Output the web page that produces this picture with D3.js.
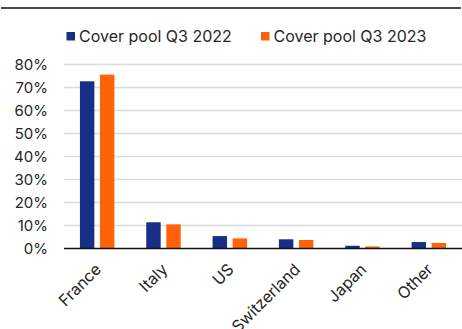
<!DOCTYPE html>
<html lang="en">
<head>
    <meta charset="UTF-8">
    <title>Cover pool by country</title>
    <script src="https://cdn.jsdelivr.net/npm/d3@7"></script>
</head>
<style>
    body { margin: 0; background: #fff; }
    text { font-family: Inter, "Noto Sans", sans-serif; fill: #262626; }
</style>
<body>
    <div class="chartBox"></div>
    <script>
        // 数据
        const countries = ["France", "Italy", "US", "Switzerland", "Japan", "Other"];
        const seriesNames = ["Cover pool Q3 2022", "Cover pool Q3 2023"];
        const q3_2022 = [72.7, 11.4, 5.4, 4.0, 1.2, 2.8];
        const q3_2023 = [75.6, 10.5, 4.4, 3.7, 0.9, 2.4];
        const yTicks = [0, 10, 20, 30, 40, 50, 60, 70, 80];
        const colors = ["#192f87", "#ff6309"];

        const width = 462, height = 329;
        const margin = { top: 64.5, right: 0, bottom: 80.5, left: 64 };

        const svg = d3.select(".chartBox").append("svg")
            .attr("width", width).attr("height", height);

        // 顶部黑线
        svg.append("line")
            .attr("x1", 1).attr("x2", 461).attr("y1", 8).attr("y2", 8)
            .attr("stroke", "#111").attr("stroke-width", 1.3);

        const x0 = d3.scaleBand().domain(countries)
            .range([margin.left, width - margin.right])
            .paddingInner(0.48).paddingOuter(0.24);
        const x1 = d3.scaleBand().domain(seriesNames)
            .range([0, x0.bandwidth()]).paddingInner(0.28);
        const y = d3.scaleLinear().domain([0, 80])
            .range([height - margin.bottom, margin.top]);

        // 网格线
        svg.append("g").selectAll("line")
            .data(yTicks.slice(1))
            .join("line")
            .attr("x1", margin.left).attr("x2", width)
            .attr("y1", d => y(d)).attr("y2", d => y(d))
            .attr("stroke", "#dcdcdc").attr("stroke-width", 1.5);

        // y轴
        const yAxis = svg.append("g")
            .attr("transform", `translate(${margin.left},0)`)
            .call(d3.axisLeft(y).tickValues(yTicks).tickFormat(d => d + "%").tickSize(0).tickPadding(16));
        yAxis.select(".domain").remove();
        yAxis.selectAll("text").style("font-size", "15px").style("fill", "#262626");

        // 柱子
        const rows = countries.map((c, i) => ({ country: c, values: [q3_2022[i], q3_2023[i]] }));
        svg.append("g").selectAll("g")
            .data(rows)
            .join("g")
            .attr("transform", d => `translate(${x0(d.country)},0)`)
            .selectAll("rect")
            .data(d => d.values.map((v, k) => ({ key: seriesNames[k], value: v, k })))
            .join("rect")
            .attr("x", d => x1(d.key))
            .attr("width", x1.bandwidth())
            .attr("y", d => y(d.value))
            .attr("height", d => y(0) - y(d.value))
            .attr("fill", d => colors[d.k]);

        // x轴
        const xAxis = svg.append("g")
            .attr("transform", `translate(0,${y(0)})`)
            .call(d3.axisBottom(x0).tickSize(0).tickPadding(0));
        xAxis.select(".domain").attr("stroke", "#111").attr("stroke-width", 1.5)
            .attr("d", `M${margin.left},0H${width}`);
        xAxis.selectAll("text")
            .style("font-size", "16px")
            .style("fill", "#262626")
            .attr("text-anchor", "end")
            .attr("y", 0)
            .attr("dy", null)
            .attr("transform", "translate(5,22) rotate(-45)");

        // 图例
        const legend = svg.append("g").selectAll("g")
            .data(seriesNames)
            .join("g")
            .attr("transform", (d, i) => `translate(${66.5 + i * 194.5},32)`);
        legend.append("rect").attr("width", 8.5).attr("height", 8.5)
            .attr("fill", (d, i) => colors[i]);
        legend.append("text").attr("x", 12.5).attr("y", 10)
            .style("font-size", "16px")
            .text(d => d);
    </script>
</body>
</html>
